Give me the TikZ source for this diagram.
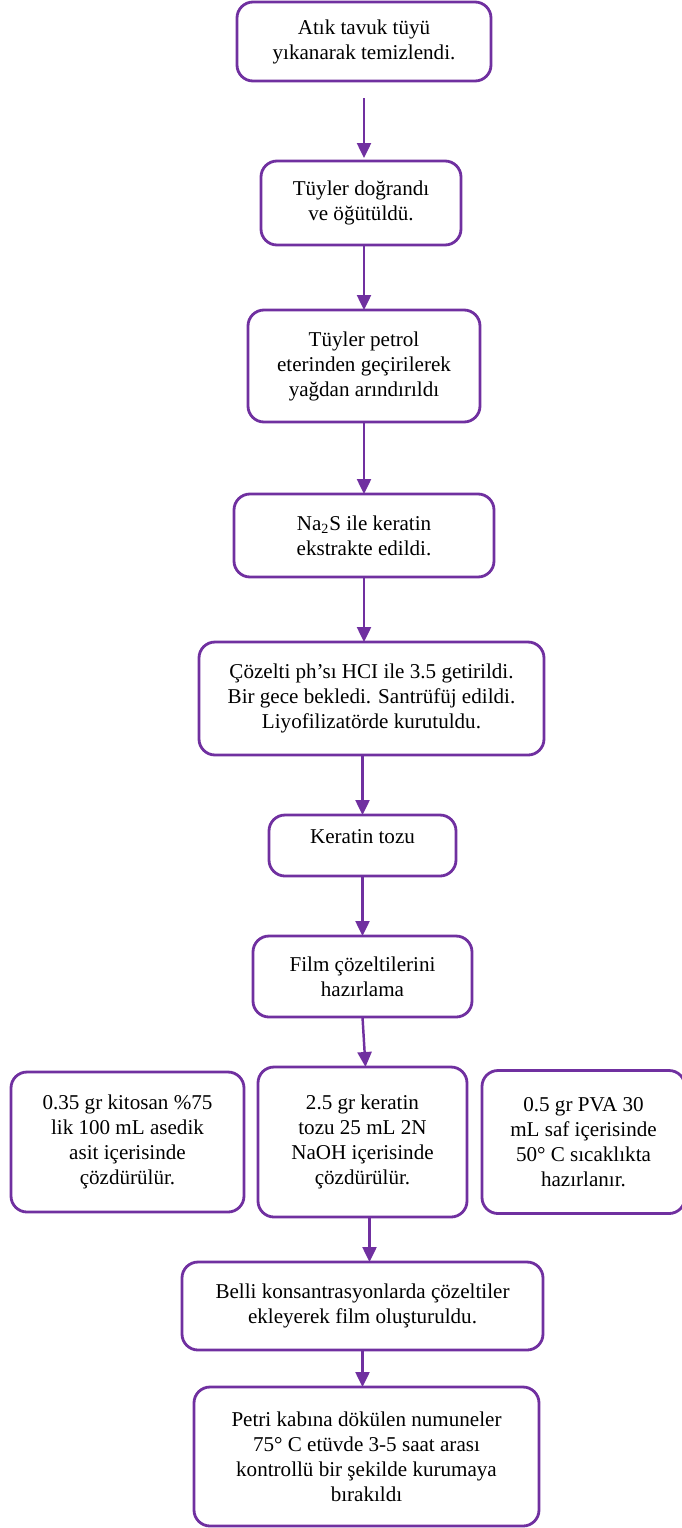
\documentclass[tikz,border=0pt]{standalone}
\usepackage{fontspec}
\setmainfont{Liberation Serif}
\usetikzlibrary{arrows.meta,positioning}
\definecolor{flowpurple}{HTML}{7030A0}
\tikzstyle{block} = [rectangle, draw=flowpurple, line width=1.6pt, outer sep=0pt, rounded corners=0.32cm, align=center, font=\fontsize{12}{14.2}\selectfont, inner sep=2pt]
\tikzstyle{line} = [draw=flowpurple, line width=1.4pt, -{Triangle[width=2.8mm,length=3mm]}, flowpurple]

\begin{document}
\begin{tikzpicture}[node distance=1.2cm and 0.3cm]
    \useasboundingbox (0,0) rectangle (13.62,-30.56);
    \node [block, minimum width=5.08cm, minimum height=1.58cm] (wash) at (7.28,-0.83) {Atık tavuk tüyü\\yıkanarak temizlendi.};
    \node [block, minimum width=4.0cm, minimum height=1.68cm, below=1.6cm of wash, xshift=-0.06cm] (chop) {Tüyler doğrandı\\ve öğütüldü.};
    \node [block, minimum width=4.64cm, minimum height=2.24cm, below=1.3cm of chop, xshift=0.06cm] (degrease) {Tüyler petrol\\eterinden geçirilerek\\yağdan arındırıldı};
    \node [block, minimum width=5.2cm, minimum height=1.66cm, below=1.44cm of degrease] (extract) {Na\textsubscript{2}S ile keratin\\ekstrakte edildi.};
    \node [block, minimum width=6.9cm, minimum height=2.26cm, below=1.3cm of extract, xshift=0.15cm] (precip) {Çözelti ph’sı HCI ile 3.5 getirildi.\\Bir gece bekledi. Santrüfüj edildi.\\Liyofilizatörde kurutuldu.};
    \node [block, minimum width=3.74cm, minimum height=1.22cm, below=1.2cm of precip, xshift=-0.18cm] (powder) {Keratin tozu\\[-0.15cm]};
    \node [block, minimum width=4.38cm, minimum height=1.62cm, below=1.2cm of powder] (prep) {Film çözeltilerini\\hazırlama};

    \node [block, minimum width=4.18cm, minimum height=3.0cm, below=1.0cm of prep] (keratin) {2.5 gr keratin\\tozu 25 mL 2N\\NaOH içerisinde\\çözdürülür.};
    \node [block, minimum width=4.66cm, minimum height=2.8cm, left=0.28cm of keratin] (chitosan) {0.35 gr kitosan \%75\\lik 100 mL asedik\\asit içerisinde\\çözdürülür.};
    \node [block, minimum width=4.06cm, minimum height=2.86cm, right=0.3cm of keratin] (pva) {0.5 gr PVA 30\\mL saf içerisinde\\50° C sıcaklıkta\\hazırlanır.};

    \node [block, minimum width=7.22cm, minimum height=1.76cm, below=0.9cm of keratin] (mix) {Belli konsantrasyonlarda çözeltiler\\ekleyerek film oluşturuldu.};
    \node [block, minimum width=6.9cm, minimum height=2.78cm, below=0.74cm of mix, xshift=0.08cm] (dry) {Petri kabına dökülen numuneler\\75° C etüvde 3-5 saat arası\\kontrollü bir şekilde kurumaya\\bırakıldı};

     \draw[line]([yshift=-0.34cm]wash.south) -- ([yshift=0.06cm]wash.south |- chop.north);
     \draw[line]([xshift=0.06cm]chop.south) -- ([xshift=0.06cm]chop.south |- degrease.north);
     \draw[line](degrease.south) -- (degrease.south |- extract.north);
     \draw[line](extract.south) -- (extract.south |- precip.north);
     \draw[line]([xshift=-0.18cm]precip.south) -- (powder.north);
     \draw[line](powder.south) -- (powder.south |- prep.north);
     \draw[line](prep.south) -- ([xshift=0.06cm]keratin.north);
     \draw[line]([xshift=0.14cm]keratin.south) -- ([xshift=0.14cm]keratin.south |- mix.north);
     \draw[line](mix.south) -- (mix.south |- dry.north);
\end{tikzpicture}
\end{document}
